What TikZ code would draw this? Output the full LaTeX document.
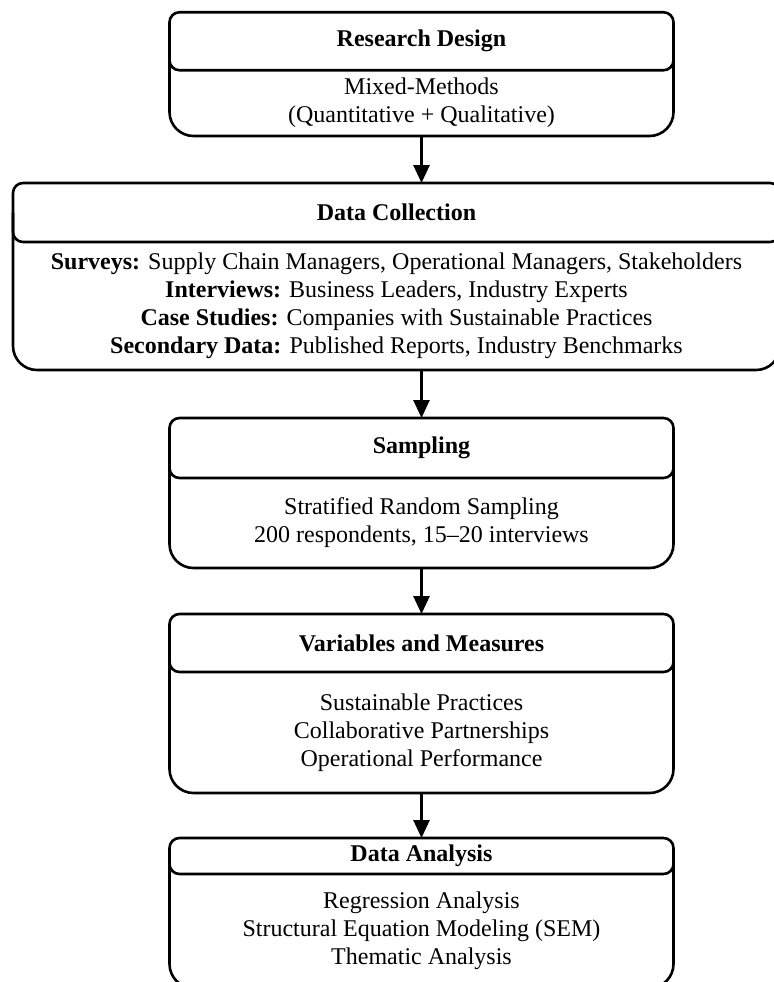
\documentclass[tikz,border=0pt]{standalone}
\usepackage{fontspec}
\setmainfont{Liberation Serif}
\usetikzlibrary{arrows.meta}
\begin{document}
\begin{tikzpicture}[x=0.5pt,y=-0.5pt,line width=1.3pt,
            every node/.style={outer sep=0pt,inner sep=2pt},
            head/.style={draw,rounded corners=5pt,minimum width=252pt,minimum height=29pt,
                font=\fontsize{12}{14}\selectfont\bfseries},
            body/.style={align=center,minimum width=252pt,font=\fontsize{12}{14}\selectfont},
            outline/.style={rounded corners=12pt},
            flow/.style={-{Triangle[length=9pt,width=8pt]}}]

        \useasboundingbox (0,0) rectangle (773,982);

        % Define boxes
        \node[head] (designhead) at (421.5,41.25) {Research Design};
        \node[body,minimum height=33pt] (design) at (421.5,103)
            {Mixed-Methods\\(Quantitative + Qualitative)};

        \node[head,minimum width=383.5pt,minimum height=29.5pt] (collecthead) at (396.5,212.5) {Data Collection};
        \node[body,minimum width=383.5pt,minimum height=64pt] (collect) at (396.5,306)
            {\textbf{Surveys:} Supply Chain Managers, Operational Managers, Stakeholders\\
             \textbf{Interviews:} Business Leaders, Industry Experts\\
             \textbf{Case Studies:} Companies with Sustainable Practices\\
             \textbf{Secondary Data:} Published Reports, Industry Benchmarks};

        \node[head,minimum height=30pt] (samplehead) at (421.5,448) {Sampling};
        \node[body,minimum height=45pt] (sample) at (421.5,523)
            {Stratified Random Sampling\\200 respondents, 15–20 interviews};

        \node[head] (varshead) at (421.5,643) {Variables and Measures};
        \node[body,minimum height=60.5pt] (vars) at (421.5,732.5)
            {Sustainable Practices\\Collaborative Partnerships\\Operational Performance};

        \node[head,minimum height=18pt] (analysishead) at (421.5,856) {Data Analysis};
        \node[body,minimum height=57pt] (analysis) at (421.5,931)
            {Regression Analysis\\Structural Equation Modeling (SEM)\\Thematic Analysis};

        % Draw box outlines
        \foreach \b in {design,collect,sample,vars,analysis}
            \draw[outline] (\b head.west) -- (\b.south west) -- (\b.south east) -- (\b head.east);

        % Draw arrows
        \draw[flow] (design.south) -- (design.south |- collecthead.north);
        \draw[flow] (samplehead.north |- collect.south) -- (samplehead.north);
        \draw[flow] (sample.south) -- (varshead.north);
        \draw[flow] (vars.south) -- (analysishead.north);

        \end{tikzpicture}
\end{document}
